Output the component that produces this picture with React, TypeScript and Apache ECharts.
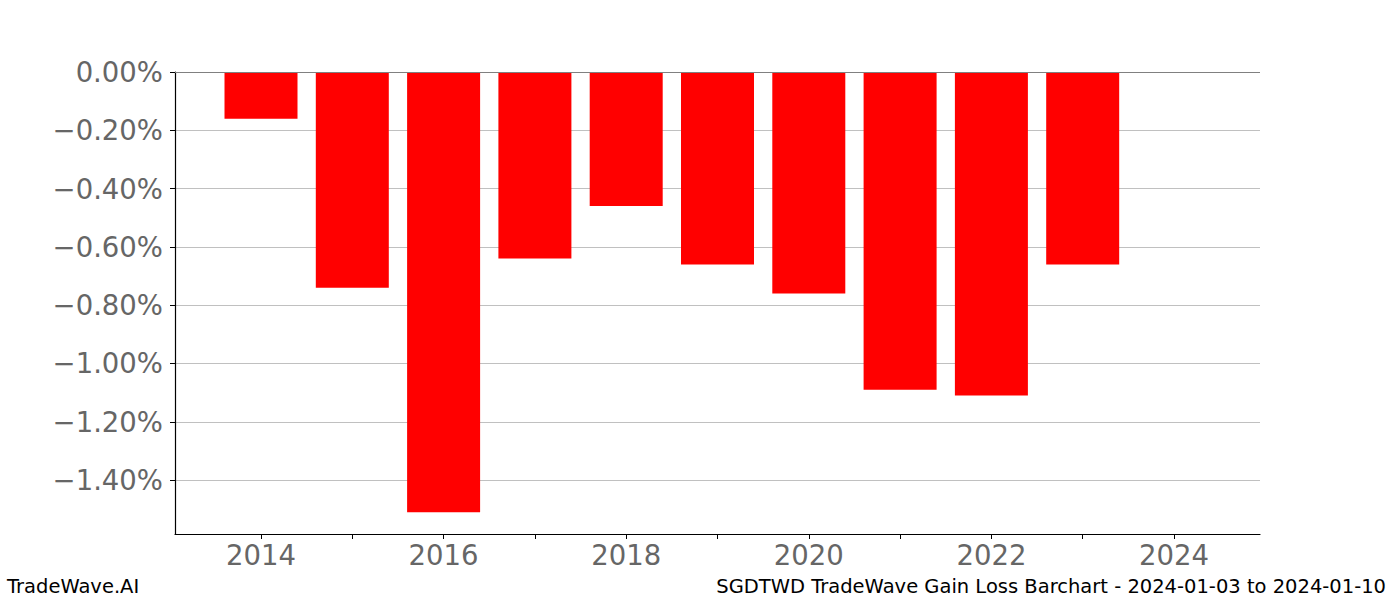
import React, { useEffect, useRef } from "react";
import * as echarts from "echarts";

const years = [2014, 2015, 2016, 2017, 2018, 2019, 2020, 2021, 2022, 2023];
const values = [-0.16, -0.74, -1.51, -0.64, -0.46, -0.66, -0.76, -1.09, -1.11, -0.66];
const xTicks = [2014, 2015, 2016, 2017, 2018, 2019, 2020, 2021, 2022, 2023, 2024];
const xLabels = [2014, 2016, 2018, 2020, 2022, 2024];
const yTicks = [0, -0.2, -0.4, -0.6, -0.8, -1.0, -1.2, -1.4];
const footerLeft = "TradeWave.AI";
const footerRight = "SGDTWD TradeWave Gain Loss Barchart - 2024-01-03 to 2024-01-10";

export default function App() {
  const ref = useRef<HTMLDivElement>(null);
  useEffect(() => {
    const chart = echarts.init(ref.current!, null, { renderer: "svg" });
    const font = "DejaVu Sans";
    chart.setOption({
      animation: false,
      textStyle: { fontFamily: font },
      grid: { left: 175, right: 140, top: 72, bottom: 66, containLabel: false },
      xAxis: {
        type: "value",
        min: 2013.058,
        max: 2024.942,
        axisLine: { show: true, onZero: false, lineStyle: { color: "#000", width: 1.2 } },
        axisTick: { show: true, length: 5, customValues: xTicks, lineStyle: { color: "#000" } },
        axisLabel: {
          customValues: xLabels,
          color: "#666",
          fontSize: 27.5,
          margin: 7,
          fontFamily: font,
          formatter: (v: number) => String(v),
        },
        splitLine: { show: false },
      },
      yAxis: {
        type: "value",
        min: -1.585,
        max: 0,
        axisLine: { show: true, onZero: false, lineStyle: { color: "#000", width: 1.2 } },
        axisTick: { show: true, length: 5, customValues: yTicks, lineStyle: { color: "#000" } },
        axisLabel: {
          customValues: yTicks,
          color: "#666",
          fontSize: 27.5,
          margin: 12,
          fontFamily: font,
          formatter: (v: number) => (v < 0 ? "\u2212" + Math.abs(v).toFixed(2) : Math.abs(v).toFixed(2)) + "%",
        },
        splitLine: { show: true, lineStyle: { color: "#c0c0c0", width: 1 } },
      },
      series: [
        {
          type: "bar",
          data: years.map((y, i) => [y, values[i]]),
          barWidth: 73,
          itemStyle: { color: "#ff0000" },
          markLine: {
            silent: true,
            symbol: "none",
            label: { show: false },
            lineStyle: { color: "#808080", width: 1, type: "solid" },
            data: [{ yAxis: 0 }],
          },
        },
      ],
      graphic: [
        {
          type: "text",
          left: 7,
          top: 576,
          style: { text: footerLeft, font: `19.5px "${font}"`, fill: "#000" },
        },
        {
          type: "text",
          right: 14,
          top: 576,
          style: { text: footerRight, font: `19.5px "${font}"`, fill: "#000" },
        },
      ],
    });
    return () => chart.dispose();
  }, []);
  return <div ref={ref} style={{ position: "fixed", left: 0, top: 0, width: 1400, height: 600, background: "#fff" }} />;
}
